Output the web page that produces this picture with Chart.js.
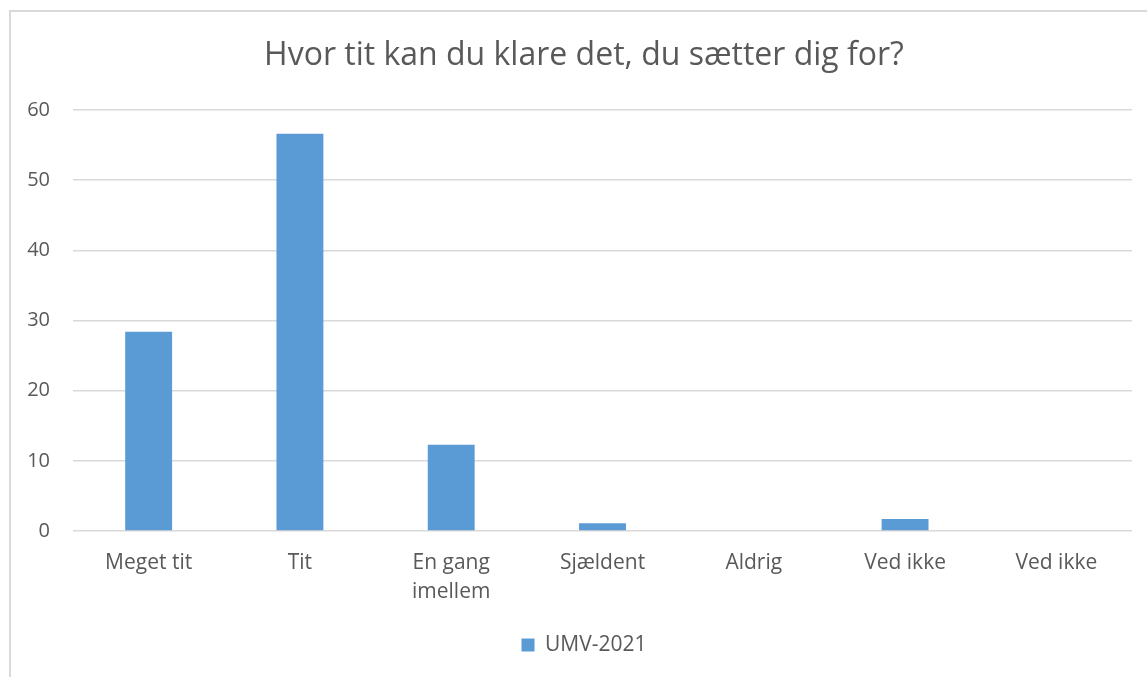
<!DOCTYPE html>
<html>
<head>
<meta charset="utf-8">
<script src="https://cdn.jsdelivr.net/npm/chart.js@4/dist/chart.umd.min.js"></script>
<style>
  html, body { margin: 0; padding: 0; background: #fff; }
  #wrap { position: relative; width: 1147px; height: 677px; overflow: hidden; }
  #frame { position: absolute; left: 9px; top: 10px; width: 1200px; height: 700px;
           border: 2px solid #d9d9d9; box-sizing: border-box; pointer-events: none; }
  canvas { position: absolute; left: 0; top: 0; }
</style>
</head>
<body>
<div id="wrap">
  <canvas id="chart" width="1147" height="677"></canvas>
  <div id="frame"></div>
</div>
<script>
  // Data
  const categories = ['Meget tit', 'Tit', ['En gang', 'imellem'], 'Sjældent', 'Aldrig', 'Ved ikke', 'Ved ikke'];
  const umv2021 = [28.4, 56.6, 12.3, 1.1, 0, 1.7, 0];
  const yTicks = [0, 10, 20, 30, 40, 50, 60];

  const textColor = '#595959';
  const gridColor = '#d9d9d9';
  const fontFamily = '"Open Sans", "Noto Sans", sans-serif';

  Chart.defaults.font.family = fontFamily;
  Chart.defaults.color = textColor;

  new Chart(document.getElementById('chart'), {
    type: 'bar',
    data: {
      labels: categories,
      datasets: [{
        label: 'UMV-2021',
        data: umv2021,
        backgroundColor: '#5b9bd5',
        borderWidth: 0,
        categoryPercentage: 1,
        barPercentage: 0.31,
        yAxisID: 'y'
      }]
    },
    options: {
      responsive: false,
      animation: false,
      layout: { padding: { left: 24, right: 3, top: 0, bottom: 11.5 } },
      plugins: {
        title: {
          display: true,
          text: 'Hvor tit kan du klare det, du sætter dig for?',
          color: textColor,
          font: { size: 32, weight: 'normal', lineHeight: 1.2 },
          padding: { top: 36.8, bottom: 34.8 }
        },
        legend: {
          position: 'bottom',
          labels: {
            boxWidth: 13,
            boxHeight: 13,
            padding: 10,
            color: textColor,
            font: { size: 21 }
          }
        },
        tooltip: { enabled: false }
      },
      scales: {
        x: {
          afterFit: axis => { axis.height = 93.5; },
          grid: { display: false, drawTicks: false },
          border: { display: false },
          ticks: { color: textColor, font: { size: 21, lineHeight: 1.35 }, padding: 18, maxRotation: 0 }
        },
        y: {
          min: 0,
          max: 60,
          afterBuildTicks: axis => { axis.ticks = yTicks.map(v => ({ value: v })); },
          afterFit: axis => { axis.width = 49; },
          grid: { color: gridColor, lineWidth: 1.5, drawTicks: false },
          border: { display: false },
          ticks: { color: textColor, font: { size: 20 }, padding: 23 }
        },
        // empty spacer on the right so the title and legend sit where the original has them
        y2: {
          position: 'right',
          min: 0,
          max: 60,
          afterFit: axis => { axis.width = 12; },
          grid: { display: false, drawTicks: false },
          border: { display: false },
          ticks: { display: false }
        }
      }
    }
  });
</script>
</body>
</html>
